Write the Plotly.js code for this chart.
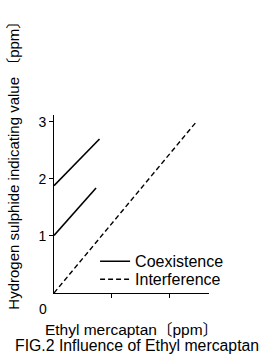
<!DOCTYPE html>
<html><head><meta charset="utf-8">
<script src="https://cdn.plot.ly/plotly-3.0.1.min.js"></script>
<style>html,body{margin:0;padding:0;background:#fff}#c{width:262px;height:354px}</style>
</head><body><div id="c"></div>
<script>
// Data
var coexUpperX = [0, 0.79];
var coexUpperY = [1.88, 2.70];
var coexLowerX = [0, 0.73];
var coexLowerY = [1.01, 1.84];
var interfX = [0, 2.47];
var interfY = [0, 3.0];
var yTickVals = [1, 2, 3];
var yTickText = ['1', '2', '3'];
var xTickVals = [1, 2];
var xTickText = ['', ''];
var seriesNames = ['Coexistence', 'Interference'];

var FONT = 'Liberation Sans, Arial, Noto Sans CJK JP, sans-serif';

var traces = [
  {x: coexUpperX, y: coexUpperY, mode: 'lines', name: seriesNames[0], legendgroup: 'c', legend: 'legend',
   line: {color: '#000', width: 1.6}, showlegend: true},
  {x: coexLowerX, y: coexLowerY, mode: 'lines', name: seriesNames[0], legendgroup: 'c', legend: 'legend',
   line: {color: '#000', width: 1.6}, showlegend: false},
  {x: interfX, y: interfY, mode: 'lines', name: seriesNames[1], legend: 'legend2',
   line: {color: '#000', width: 1.4, dash: '5px,3px'}, showlegend: true}
];

var legendBase = {xanchor: 'left', yanchor: 'middle', bgcolor: 'rgba(0,0,0,0)',
                  font: {family: FONT, size: 16, color: '#000'}, tracegroupgap: 0, itemwidth: 30};

var layout = {
  width: 262, height: 354,
  margin: {l: 54, r: 53, t: 115, b: 61, pad: 0},
  paper_bgcolor: '#fff', plot_bgcolor: '#fff',
  font: {family: FONT, size: 15, color: '#000'},
  showlegend: true,
  legend: Object.assign({}, legendBase, {x: 0.265, y: 0.178}),
  legend2: Object.assign({}, legendBase, {x: 0.265, y: 0.077}),
  xaxis: {range: [0, 2.69], showgrid: false, zeroline: false, showline: true, linecolor: '#000', linewidth: 1,
          ticks: 'outside', ticklen: 4, tickcolor: '#000', tickvals: xTickVals, ticktext: xTickText,
          fixedrange: true,
          title: {text: 'Ethyl mercaptan〔ppm〕', font: {family: FONT, size: 15.5, color: '#000'}, standoff: 24}},
  yaxis: {range: [0, 3.12], showgrid: false, zeroline: false, showline: true, linecolor: '#000', linewidth: 1,
          ticks: 'outside', ticklen: 4, tickcolor: '#000', tickvals: yTickVals, ticktext: yTickText,
          tickfont: {family: FONT, size: 14, color: '#000'}, fixedrange: true},
  annotations: [
    {text: '0', xref: 'x', yref: 'y', x: 0, y: 0, xshift: -11, yshift: -16, showarrow: false,
     font: {family: FONT, size: 14, color: '#000'}},
    {text: 'Hydrogen sulphide indicating value 〔ppm〕', xref: 'paper', yref: 'paper',
     x: -0.258, y: 0.738, textangle: -90, showarrow: false, xanchor: 'center', yanchor: 'middle',
     font: {family: FONT, size: 15, color: '#000'}},
    {text: 'FIG.2 Influence of Ethyl mercaptan', xref: 'paper', yref: 'paper',
     x: 0.535, y: -0.297, showarrow: false, xanchor: 'center', yanchor: 'middle',
     font: {family: FONT, size: 15.8, color: '#000'}}
  ]
};

Plotly.newPlot('c', traces, layout, {displayModeBar: false, staticPlot: true});
</script></body></html>
